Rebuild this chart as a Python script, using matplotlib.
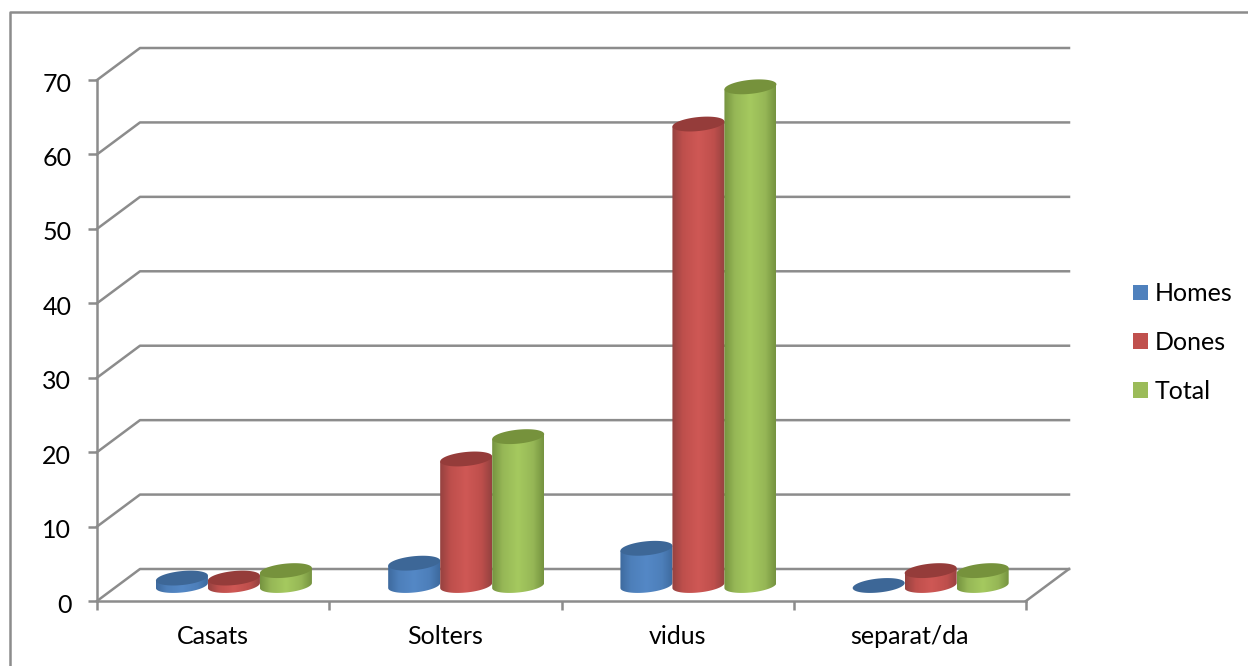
import numpy as np
import matplotlib
matplotlib.use('Agg')
import matplotlib.pyplot as plt
from matplotlib.lines import Line2D
from matplotlib.patches import Patch, Polygon
from matplotlib.colors import LinearSegmentedColormap
from matplotlib.transforms import ScaledTranslation

categories = ['Casats', 'Solters', 'vidus', 'separat/da']
homes = [1, 3, 5, 0]
dones = [1, 17, 62, 2]
total = [2, 20, 67, 2]
yticks = [0, 10, 20, 30, 40, 50, 60, 70]

series_names = ['Homes', 'Dones', 'Total']
series_values = [homes, dones, total]
base_colors = ['#4F81BD', '#C0504D', '#9BBB59']
top_colors = ['#3D6797', '#953C3A', '#76923C']
edge_colors = ['#3E6A9F', '#964240', '#769440']
side_colors = ['#4D7FBA', '#BE4F4C', '#96B756']
mid_colors = ['#5488C6', '#CF5855', '#A5C95F']

W, H = 1248, 666
GRAY = '#8C8C8C'
LW = 1.8
FS = 18

plt.rcParams['font.family'] = ['Lato', 'DejaVu Sans']
plt.rcParams['font.size'] = FS

fig = plt.figure(figsize=(W / 100, H / 100), dpi=100)
# front plane of the fake 3d box
left, right, top, bottom = 97, 1026, 80, 601
ax = fig.add_axes([left / W, 1 - bottom / H, (right - left) / W, (bottom - top) / H])
ax.set_xlim(0, 4)
ax.set_ylim(0, 70)
ax.patch.set_visible(False)
for s in ax.spines.values():
    s.set_visible(False)

px = 4 / (right - left)
py = 70 / (bottom - top)
dx, dy = 43 * px, 32 * py


def wall(xs, ys):
    ax.plot(xs, ys, color=GRAY, lw=LW, clip_on=False, solid_capstyle='projecting', zorder=1)


# walls and gridlines
for v in yticks:
    wall([0, dx, 4 + dx], [v, v + dy, v + dy])
wall([0, 0], [0, 70])
wall([0, 4], [0, 0])
wall([4, 4 + dx], [0, dy])

ax.set_xticks(range(5))
ax.set_xticklabels([])
ax.set_xticks([i + 0.5 for i in range(4)], categories, minor=True)
ax.set_yticks(yticks)
ax.tick_params(axis='both', which='major', color=GRAY, width=LW, length=6.5)
ax.tick_params(axis='x', which='minor', length=0, pad=17, labelsize=FS)
ax.tick_params(axis='y', labelsize=FS, pad=12)
for lab in ax.get_yticklabels():
    lab.set_transform(lab.get_transform() + ScaledTranslation(0, -1.5 / 72, fig.dpi_scale_trans))

# cylinders
a = 26 * px
b = 7 * py
slope = 2.5 * py
t = np.linspace(0, 2 * np.pi, 80)
zo = 5
for j in range(3):
    cmap = LinearSegmentedColormap.from_list('c', [(0, edge_colors[j]), (0.2, side_colors[j]),
                                                   (0.5, mid_colors[j]), (0.8, side_colors[j]),
                                                   (1, edge_colors[j])])
    grad = cmap(np.linspace(0, 1, 64))[np.newaxis, :, :]
    for i in range(4):
        cx = i + 0.5 + dx / 2 + (j - 1) * 52 * px - 0.7 * px
        cy = dy / 2 - 0.5 * py
        val = series_values[j][i]
        if val > 0:
            u = np.linspace(np.pi, 2 * np.pi, 40)
            xs = cx + a * np.cos(u)
            ys = cy + b * np.sin(u) + slope * np.cos(u)
            xb = np.r_[xs, cx + a, cx - a]
            yb = np.r_[ys, cy + val + slope, cy + val - slope]
            body = Polygon(np.c_[xb, yb], closed=True, transform=ax.transData,
                           fc='none', ec='none')
            ax.add_patch(body)
            im = ax.imshow(grad, extent=[cx - a, cx + a, cy - b - slope, cy + val + slope],
                           aspect='auto', zorder=zo, interpolation='bilinear')
            im.set_clip_path(body)
        ax.fill(cx + a * np.cos(t), cy + val + b * np.sin(t) + slope * np.cos(t),
                color=top_colors[j], lw=0, zorder=zo + 0.5, clip_on=False)
    zo += 1
ax.set_xlim(0, 4)
ax.set_ylim(0, 70)

handles = [Patch(fc=c, ec='none') for c in base_colors]
fig.legend(handles, series_names, loc='center left', bbox_to_anchor=(1133 / W, 1 - 342.5 / H),
           frameon=False, fontsize=FS, handlelength=0.6, handleheight=0.6,
           handletextpad=0.28, labelspacing=1.03, borderpad=0, borderaxespad=0)

# outer chart frame, cut off at the right and bottom of the picture
fig.add_artist(Line2D([10 / W, 10 / W, 1], [0, 1 - 12 / H, 1 - 12 / H], color=GRAY, lw=LW))

fig.savefig('out.png', dpi=100)
